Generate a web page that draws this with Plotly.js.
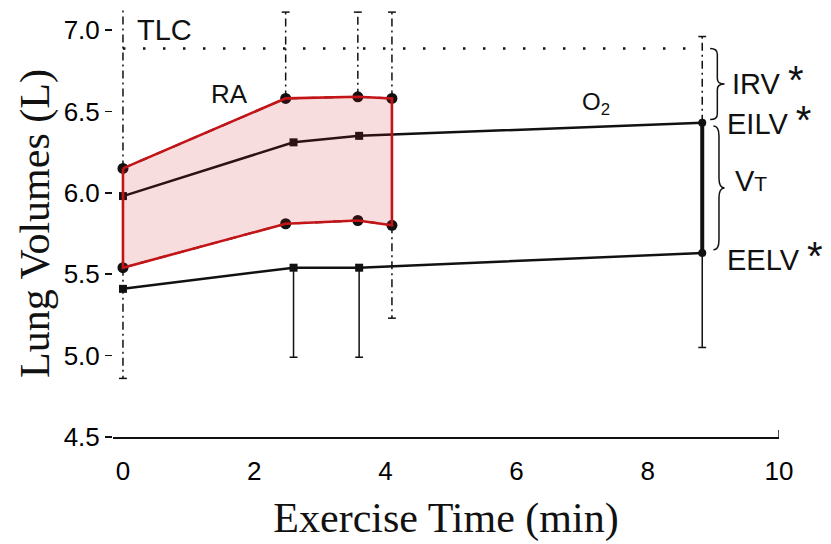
<!DOCTYPE html>
<html>
<head>
<meta charset="utf-8">
<script src="https://cdn.plot.ly/plotly-3.0.1.min.js"></script>
<style>html,body{margin:0;padding:0;background:#fff;}#chart{width:831px;height:544px;}</style>
</head>
<body>
<div id="chart"></div>
<script>
// ---- data ----
const timeRA = [0, 2.48, 3.58, 4.1];
const raEILV = [6.15, 6.58, 6.59, 6.58];
const raEELV = [5.54, 5.81, 5.83, 5.80];
const timeO2 = [0, 2.6, 3.6, 8.83];
const o2EILV = [5.98, 6.31, 6.35, 6.43];
const o2EELV = [5.41, 5.54, 5.54, 5.63];
const tlcValue = 6.886;
const raEILVsdUp = [0.97, 0.53, 0.52, 0.53];
const raEELVsdDown = [0.68, null, null, 0.57];
const o2EILVsdUp = [null, null, null, 0.53];
const o2EELVsdDown = [null, 0.55, 0.55, 0.58];
const xTicks = [0, 2, 4, 6, 8, 10];
const yTicks = [4.5, 5.0, 5.5, 6.0, 6.5, 7.0];

// ---- helpers ----
const CAP = 0.06;
function errSegments(xs, vals, sds, dir) {
  const x = [], y = [];
  xs.forEach((xv, i) => {
    if (sds[i] == null) return;
    const end = vals[i] + dir * sds[i];
    x.push(xv, xv, null); y.push(vals[i], end, null);
    if (!(i === 0 && dir > 0)) { x.push(xv - CAP, xv + CAP, null); y.push(end, end, null); }
  });
  return {x, y};
}
function brace(xl, w, y0, y1) {
  const xm = xl + w / 2, xt = xl + w, ym = (y0 + y1) / 2, h = (y0 - y1);
  const q = h * 0.08;
  return `M ${xl},${y0} Q ${xm},${y0} ${xm},${y0 - q} L ${xm},${ym + q} Q ${xm},${ym} ${xt},${ym} ` +
         `Q ${xm},${ym} ${xm},${ym - q} L ${xm},${y1 + q} Q ${xm},${y1} ${xl},${y1}`;
}

const ddash = '8px,4px,2px,4px';
const traces = [];

// dash-dot SD bars (room air)
const e1 = errSegments(timeRA, raEILV, raEILVsdUp, +1);
const e2 = errSegments(timeRA, raEELV, raEELVsdDown, -1);
traces.push({x: e1.x.concat(e2.x), y: e1.y.concat(e2.y), mode: 'lines', line: {color: '#111', width: 1.5, dash: ddash}, hoverinfo: 'skip'});
traces.push({x: [timeRA[0], timeRA[0], null, timeRA[3], timeRA[3]], y: [raEILV[0], raEELV[0], null, raEILV[3], raEELV[3]], mode: 'lines', line: {color: '#111', width: 1.5, dash: ddash}, hoverinfo: 'skip'});
// O2 SD bars
const e3 = errSegments(timeO2, o2EILV, o2EILVsdUp, +1);
traces.push({x: e3.x, y: e3.y, mode: 'lines', line: {color: '#111', width: 1.5, dash: ddash}, hoverinfo: 'skip'});
const e4 = errSegments(timeO2, o2EELV, o2EELVsdDown, -1);
traces.push({x: e4.x, y: e4.y, mode: 'lines', line: {color: '#111', width: 1.5}, hoverinfo: 'skip'});

// TLC dotted line
traces.push({x: [timeO2[0], timeO2[3]], y: [tlcValue, tlcValue], mode: 'lines', line: {color: '#111', width: 2.5, dash: '2.5px,17.5px'}, hoverinfo: 'skip'});

// RA lines (dashed, mostly under the band)
traces.push({x: timeRA, y: raEILV, mode: 'lines', line: {color: '#111', width: 2, dash: 'dash'}});
traces.push({x: timeRA, y: raEELV, mode: 'lines', line: {color: '#111', width: 2, dash: 'dash'}});

// O2 lines
const o2sym = ['square', 'square', 'square', 'circle'];
traces.push({x: timeO2, y: o2EILV, mode: 'lines+markers', line: {color: '#111', width: 2.5}, marker: {color: '#111', size: 8, symbol: o2sym}});
traces.push({x: timeO2, y: o2EELV, mode: 'lines+markers', line: {color: '#111', width: 2.5}, marker: {color: '#111', size: 8, symbol: o2sym}});
traces.push({x: [timeO2[3], timeO2[3]], y: [o2EELV[3], o2EILV[3]], mode: 'lines', line: {color: '#111', width: 4}, hoverinfo: 'skip'});

// RA markers
traces.push({x: timeRA.concat(timeRA), y: raEILV.concat(raEELV), mode: 'markers', marker: {color: '#111', size: 11, symbol: 'circle'}});

// shaded RA band
const bandX = timeRA.concat(timeRA.slice().reverse()); bandX.push(timeRA[0]);
const bandY = raEILV.concat(raEELV.slice().reverse()); bandY.push(raEILV[0]);
traces.push({x: bandX, y: bandY, mode: 'lines', fill: 'toself', fillcolor: 'rgba(200,30,30,0.15)', line: {color: '#c41418', width: 2.6}, hoverinfo: 'skip'});

const sans = 'Liberation Sans, Arial, Helvetica, sans-serif';
const serif = 'Liberation Serif, Times New Roman, serif';
const star = '<span style="font-size:40px">*</span>';

const layout = {
  width: 831, height: 544,
  margin: {l: 113, r: 52, t: 10, b: 107},
  paper_bgcolor: '#fff', plot_bgcolor: '#fff',
  showlegend: false,
  xaxis: {
    range: [-0.152, 10], tickvals: xTicks, ticktext: xTicks.map(String),
    ticks: '', ticklabelstandoff: 10, showgrid: false, zeroline: false, showline: true, linecolor: '#111', linewidth: 1.5,
    tickfont: {family: sans, size: 26, color: '#000'},
    title: {text: 'Exercise Time (min)', font: {family: serif, size: 42, color: '#111'}, standoff: 18}
  },
  yaxis: {
    range: [4.5, 7.123], tickvals: yTicks, ticktext: yTicks.map(v => v.toFixed(1)),
    ticks: 'outside', ticklen: 7, tickwidth: 1.5, tickcolor: '#111',
    showgrid: false, zeroline: false, showline: false,
    tickfont: {family: sans, size: 26, color: '#000'},
    title: {text: 'Lung Volumes (L)', font: {family: serif, size: 42, color: '#111'}, standoff: 0}
  },
  annotations: [
    {x: 0.18, y: 7.0, xref: 'x', yref: 'y', text: 'TLC', showarrow: false, xanchor: 'left', yanchor: 'middle', font: {family: sans, size: 29, color: '#111'}},
    {x: 1.62, y: 6.61, xref: 'x', yref: 'y', text: 'RA', showarrow: false, xanchor: 'center', yanchor: 'middle', font: {family: sans, size: 26, color: '#111'}},
    {x: 7.21, y: 6.55, xref: 'x', yref: 'y', text: 'O<sub>2</sub>', showarrow: false, xanchor: 'center', yanchor: 'middle', font: {family: sans, size: 24, color: '#111'}},
    {x: 9.25, y: 6.69, xref: 'x', yref: 'y', text: 'IRV ' + star, showarrow: false, xanchor: 'left', yanchor: 'middle', font: {family: sans, size: 29, color: '#111'}},
    {x: 9.18, y: 6.45, xref: 'x', yref: 'y', text: 'EILV ' + star, showarrow: false, xanchor: 'left', yanchor: 'middle', font: {family: sans, size: 29, color: '#111'}},
    {x: 9.30, y: 6.07, xref: 'x', yref: 'y', text: 'V<span style="font-size:21px">T</span>', showarrow: false, xanchor: 'left', yanchor: 'middle', font: {family: sans, size: 29, color: '#111'}},
    {x: 9.18, y: 5.61, xref: 'x', yref: 'y', text: 'EELV ' + star, showarrow: false, xanchor: 'left', yanchor: 'middle', font: {family: sans, size: 29, color: '#111'}}
  ],
  shapes: [
    {type: 'path', xref: 'x', yref: 'y', path: brace(8.95, 0.22, tlcValue, o2EILV[3] + 0.02), line: {color: '#111', width: 1.5}},
    {type: 'path', xref: 'x', yref: 'y', path: brace(9.0, 0.17, o2EILV[3] - 0.02, o2EELV[3] + 0.02), line: {color: '#111', width: 1.5}},
    {type: 'line', xref: 'x', yref: 'y', ysizemode: 'pixel', yanchor: yTicks[0], x0: xTicks[xTicks.length - 1], x1: xTicks[xTicks.length - 1], y0: 0, y1: 7, line: {color: '#111', width: 1.5}}
  ]
};

Plotly.newPlot('chart', traces, layout, {displayModeBar: false, staticPlot: true});
</script>
</body>
</html>
